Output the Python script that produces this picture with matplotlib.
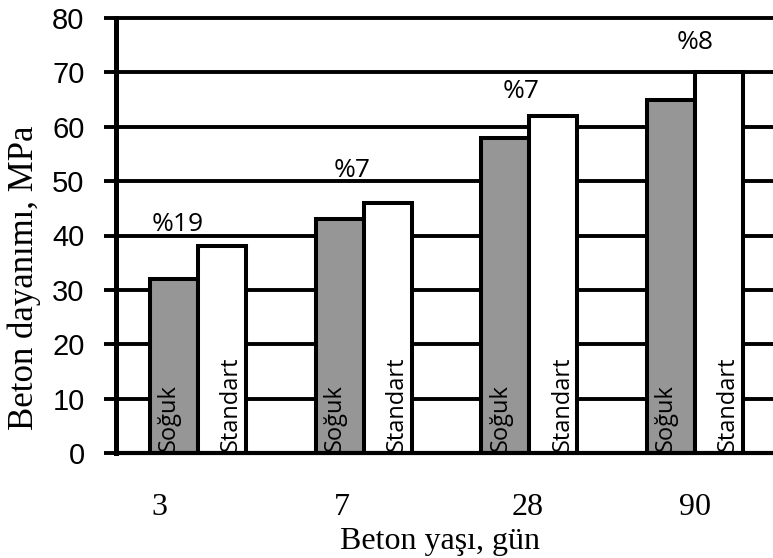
import matplotlib
matplotlib.use("Agg")
import matplotlib.pyplot as plt
import numpy as np

# Concrete compressive strength by age
ages = ["3", "7", "28", "90"]
cold_cured = [32, 43, 58, 65]        # Soğuk
standard_cured = [38, 46, 62, 70]    # Standart
series_names = ["Soğuk", "Standart"]

# Placement of category labels and gain labels (data coordinates)
age_label_x = [-0.23, 0.87, 1.99, 3.0]
gain_label_x = [-0.12, 0.93, 1.95, 3.0]
gain_label_y = [42.1, 52.0, 66.4, 75.5]

y_ticks = [0, 10, 20, 30, 40, 50, 60, 70, 80]

W, H, DPI = 773, 558, 100
fig = plt.figure(figsize=(W / DPI, H / DPI), dpi=DPI)
ax = fig.add_axes([116 / W, 1 - 453 / H, (W - 116) / W, (453 - 18) / H])

x = np.arange(len(ages))
bw = 0.29
edge_lw = 2.9

ax.bar(x - bw / 2, cold_cured, bw, color="#969696", edgecolor="black",
       linewidth=edge_lw, zorder=3)
ax.bar(x + bw / 2, standard_cured, bw, color="white", edgecolor="black",
       linewidth=edge_lw, zorder=3)

ax.set_xlim(-0.495, 3.471)
ax.set_ylim(0, 80)

# Y axis
ax.set_yticks(y_ticks)
ax.set_yticklabels([str(v) for v in y_ticks], family="Liberation Sans", fontsize=21)
ax.tick_params(axis="y", direction="out", length=8.6, width=2.8, pad=14)
ax.yaxis.grid(True, color="black", linewidth=2.8)
ax.set_axisbelow(True)
for gl in ax.yaxis.get_gridlines():
    gl.set_clip_on(False)

# X axis category labels
ax.set_xticks(age_label_x)
ax.set_xticklabels(ages, family="Liberation Serif", fontsize=23)
ax.tick_params(axis="x", length=0, pad=29)

for side in ["top", "right"]:
    ax.spines[side].set_visible(False)
ax.spines["left"].set_linewidth(3.6)
ax.spines["bottom"].set_linewidth(3.0)
ax.spines["left"].set_zorder(4)
ax.spines["bottom"].set_zorder(4)

# Series names inside the bars
for i in range(len(ages)):
    ax.text(x[i] - bw / 2 - 0.03, 0.4, series_names[0], rotation=90,
            ha="center", va="bottom", family="Open Sans", fontsize=17, zorder=5)
    ax.text(x[i] + bw / 2 + 0.055, 0.4, series_names[1], rotation=90,
            ha="center", va="bottom", family="Open Sans", fontsize=17, zorder=5)

# Strength gain of standard over cold curing
for i in range(len(ages)):
    gain = (standard_cured[i] - cold_cured[i]) / cold_cured[i] * 100
    ax.text(gain_label_x[i], gain_label_y[i], f"%{round(gain)}",
            ha="center", va="center", family="Open Sans", fontsize=19, zorder=5)

fig.text(440 / W, 1 - 541 / H, "Beton yaşı, gün", ha="center", va="center",
         family="Liberation Serif", fontsize=23)
fig.text(24 / W, 1 - 278 / H, "Beton dayanımı, MPa", ha="center", va="center",
         rotation=90, family="Liberation Serif", fontsize=25)

fig.savefig("out.png", dpi=DPI)
